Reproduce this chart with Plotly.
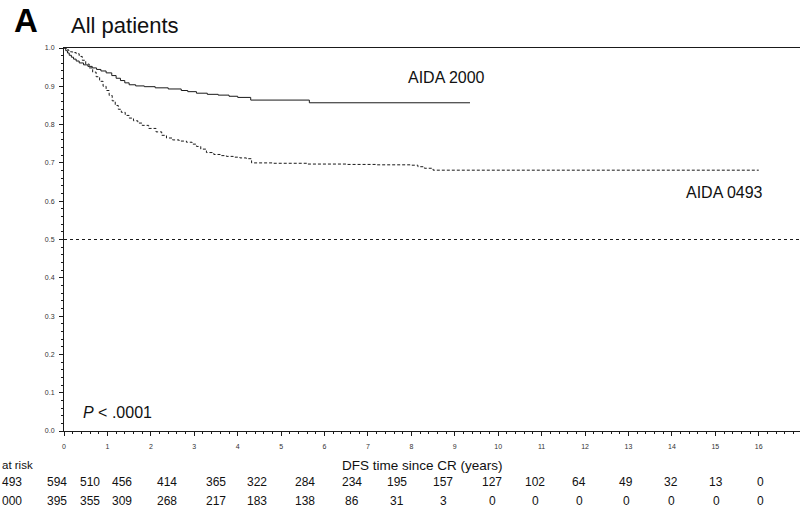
import plotly.graph_objects as go

# Kaplan-Meier step data: disease-free survival since CR (years)
aida2000_t = [0, 0.04, 0.08, 0.12, 0.17, 0.22, 0.28, 0.35, 0.45, 0.55, 0.65, 0.75, 0.85, 0.97,
              1.1, 1.2, 1.3, 1.4, 1.5, 1.65, 1.85, 2.1, 2.4, 2.7, 2.85, 3.05, 3.3, 3.55, 3.8,
              4.0, 4.3, 5.65, 9.35]
aida2000_s = [1.0, 0.993, 0.987, 0.981, 0.976, 0.971, 0.966, 0.961, 0.956, 0.952, 0.948, 0.944,
              0.940, 0.935, 0.928, 0.921, 0.915, 0.909, 0.904, 0.901, 0.899, 0.896, 0.893, 0.889,
              0.886, 0.882, 0.879, 0.877, 0.874, 0.871, 0.864, 0.857, 0.857]

aida0493_t = [0, 0.05, 0.1, 0.15, 0.2, 0.28, 0.35, 0.42, 0.5, 0.58, 0.66, 0.74, 0.82, 0.9, 0.97,
              1.04, 1.11, 1.18, 1.25, 1.32, 1.41, 1.5, 1.6, 1.7, 1.8, 1.95, 2.12, 2.25, 2.36, 2.5,
              2.65, 2.82, 2.95, 3.05, 3.15, 3.28, 3.45, 3.6, 3.74, 3.9, 4.05, 4.2, 4.32, 4.8, 5.6,
              6.5, 7.2, 8.0, 8.15, 8.3, 8.5, 16.0]
aida0493_s = [1.0, 0.996, 0.993, 0.99, 0.988, 0.985, 0.978, 0.968, 0.958, 0.948, 0.937, 0.925,
              0.913, 0.900, 0.889, 0.876, 0.862, 0.850, 0.840, 0.832, 0.824, 0.817, 0.810, 0.804,
              0.798, 0.790, 0.781, 0.772, 0.765, 0.760, 0.757, 0.754, 0.749, 0.743, 0.736, 0.727,
              0.722, 0.719, 0.717, 0.715, 0.713, 0.711, 0.700, 0.699, 0.697, 0.696, 0.695, 0.694,
              0.690, 0.686, 0.681, 0.681]

# Number at risk per year (0..16)
risk_years = list(range(17))
risk_0493 = [594, 510, 456, 414, 365, 322, 284, 234, 195, 157, 127, 102, 64, 49, 32, 13, 0]
risk_2000 = [395, 355, 309, 268, 217, 183, 138, 86, 31, 3, 0, 0, 0, 0, 0, 0, 0]
risk_header = "at risk"
risk_row_labels = ["493", "000"]

x_ticks = list(range(18))
y_ticks = [0.0, 0.1, 0.2, 0.3, 0.4, 0.5, 0.6, 0.7, 0.8, 0.9, 1.0]
median_level = 0.5

# Page geometry (pixels)
W, H = 800, 512
L, T = 64, 48
PW, PH = W - L, 431 - T
X_MAX = 16.95


def px(x):
    return (x - L) / PW


def py(y):
    return (T + PH - y) / PH


# Column centres of the at-risk table (pixels)
risk_col_px = [57, 90, 122, 167, 216, 257, 305, 352, 397, 443, 492, 535, 579, 626, 671, 716, 760]

FONT = "Liberation Sans, Arial, sans-serif"
INK = "#1a1a1a"
TXT = "#111111"

fig = go.Figure()

fig.add_trace(go.Scatter(x=aida2000_t, y=aida2000_s, mode="lines", line_shape="hv",
                         line=dict(color=INK, width=1), name="AIDA 2000", showlegend=False))
fig.add_trace(go.Scatter(x=aida0493_t, y=aida0493_s, mode="lines", line_shape="hv",
                         line=dict(color=INK, width=1, dash="3px,2px"), name="AIDA 0493",
                         showlegend=False))

# Median reference line
fig.add_trace(go.Scatter(x=[0, 17], y=[median_level, median_level], mode="lines",
                         line=dict(color=INK, width=1, dash="3px,3px"), showlegend=False,
                         hoverinfo="skip"))

annotations = [
    dict(x=px(12), y=py(21), text="<b>A</b>", font=dict(size=33, family=FONT, color="#000"),
         xanchor="left", yanchor="middle"),
    dict(x=px(69), y=py(25), text="All patients", font=dict(size=22, family=FONT, color=TXT),
         xanchor="left", yanchor="middle"),
    dict(x=px(446), y=py(77), text="AIDA 2000", font=dict(size=16, family=FONT, color=TXT),
         xanchor="center", yanchor="middle"),
    dict(x=px(724), y=py(192), text="AIDA 0493", font=dict(size=16, family=FONT, color=TXT),
         xanchor="center", yanchor="middle"),
    dict(x=px(81), y=py(412), text="<i>P</i> < .0001", font=dict(size=16, family=FONT, color=TXT),
         xanchor="left", yanchor="middle"),
    dict(x=px(422), y=py(465), text="DFS time since CR (years)",
         font=dict(size=13.5, family=FONT, color=TXT), xanchor="center", yanchor="middle"),
    dict(x=px(0), y=py(465), text=risk_header, font=dict(size=11.5, family=FONT, color=TXT),
         xanchor="left", yanchor="middle"),
    dict(x=px(0), y=py(482), text=risk_row_labels[0], font=dict(size=12, family=FONT, color=TXT),
         xanchor="left", yanchor="middle"),
    dict(x=px(0), y=py(501), text=risk_row_labels[1], font=dict(size=12, family=FONT, color=TXT),
         xanchor="left", yanchor="middle"),
]
for cx, a, b in zip(risk_col_px, risk_0493, risk_2000):
    annotations.append(dict(x=px(cx), y=py(482), text=str(a),
                            font=dict(size=12, family=FONT, color=TXT),
                            xanchor="center", yanchor="middle"))
    annotations.append(dict(x=px(cx), y=py(501), text=str(b),
                            font=dict(size=12, family=FONT, color=TXT),
                            xanchor="center", yanchor="middle"))
for a in annotations:
    a.update(xref="paper", yref="paper", showarrow=False)

fig.update_layout(
    width=W, height=H,
    margin=dict(l=L, r=0, t=T, b=H - T - PH),
    paper_bgcolor="white", plot_bgcolor="white",
    annotations=annotations,
    showlegend=False,
    xaxis=dict(range=[0, X_MAX], tickvals=x_ticks, ticktext=[str(v) for v in x_ticks],
               showgrid=False, zeroline=False, showline=True, linecolor=INK, linewidth=1,
               mirror=True, ticks="outside", ticklen=4, tickcolor=INK,
               ticklabelstandoff=5,
               tickfont=dict(size=7, family=FONT, color="#333"),
               minor=dict(dtick=0.2, tick0=0, ticks="outside", ticklen=2, tickcolor=INK,
                          showgrid=False)),
    yaxis=dict(range=[0, 1.0], tickvals=y_ticks, ticktext=[f"{v:.1f}" for v in y_ticks],
               showgrid=False, zeroline=False, showline=True, linecolor=INK, linewidth=1,
               ticks="outside", ticklen=4, tickcolor=INK,
               ticklabelstandoff=3,
               tickfont=dict(size=7, family=FONT, color="#333"),
               minor=dict(dtick=0.02, tick0=0, ticks="outside", ticklen=2, tickcolor=INK,
                          showgrid=False)),
)

fig.write_html("out.html")
